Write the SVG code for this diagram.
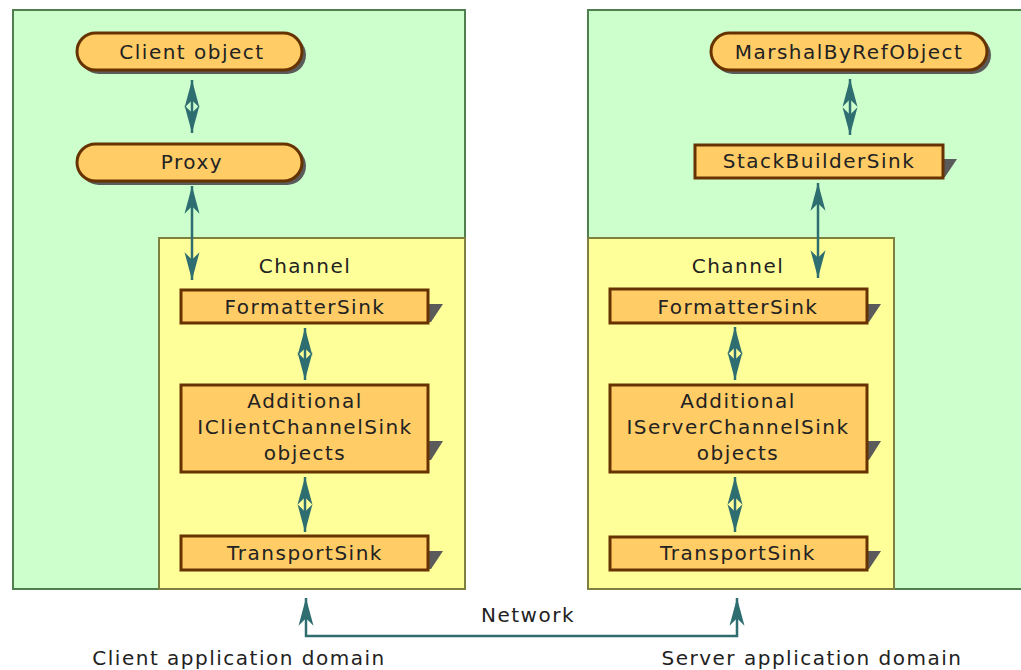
<svg xmlns="http://www.w3.org/2000/svg" width="1021" height="670" viewBox="0 0 1021 670">
<style>
.dom{fill:#ccffcc;stroke:#4f7f4f;stroke-width:2}
.chan{fill:#ffff99;stroke:#7f7f3f;stroke-width:2}
.node{fill:#ffcc66;stroke:#663300;stroke-width:3}
.sh{fill:#5a5a5a}
.t{font-family:"DejaVu Sans",Verdana,sans-serif;font-size:20px;letter-spacing:1.5px;fill:#222;text-anchor:middle}
.c{fill:none;stroke:#2f6e70;stroke-width:2.5}
</style>
<defs>
<marker id="ah" markerUnits="userSpaceOnUse" markerWidth="30" markerHeight="20" viewBox="-26 -8 28 16" refX="0" refY="0" orient="auto-start-reverse">
<path d="M0,0 L-26,-7 L-19,0 L-26,7 Z" fill="#2f6e70"/>
</marker>
</defs>
<rect width="1021" height="670" fill="#ffffff"/>
<g id="client-domain">
<rect class="dom" x="13" y="10" width="452" height="579"/>
<rect class="chan" x="159" y="238" width="306" height="351"/>
<text class="t" x="305" y="273">Channel</text>
</g>
<g id="server-domain">
<rect class="dom" x="588" y="10" width="440" height="579"/>
<rect class="chan" x="588" y="238" width="306" height="351"/>
<text class="t" x="738" y="273">Channel</text>
</g>
<g id="connectors">
<line class="c" x1="192" y1="80" x2="192" y2="133" marker-start="url(#ah)" marker-end="url(#ah)"/>
<line class="c" x1="192" y1="186" x2="192" y2="280" marker-start="url(#ah)" marker-end="url(#ah)"/>
<line class="c" x1="305" y1="328" x2="305" y2="380" marker-start="url(#ah)" marker-end="url(#ah)"/>
<line class="c" x1="305" y1="477" x2="305" y2="532" marker-start="url(#ah)" marker-end="url(#ah)"/>
<line class="c" x1="850" y1="79" x2="850" y2="135" marker-start="url(#ah)" marker-end="url(#ah)"/>
<line class="c" x1="818" y1="183" x2="818" y2="278" marker-start="url(#ah)" marker-end="url(#ah)"/>
<line class="c" x1="735" y1="327" x2="735" y2="380" marker-start="url(#ah)" marker-end="url(#ah)"/>
<line class="c" x1="735" y1="477" x2="735" y2="532" marker-start="url(#ah)" marker-end="url(#ah)"/>
<polyline class="c" points="306,598 306,636 737,636 737,598" marker-start="url(#ah)" marker-end="url(#ah)"/>
</g>
<g id="client-object">
<rect class="sh" x="80" y="36" width="226" height="38" rx="19"/>
<rect class="node" x="77" y="33" width="225" height="37" rx="18.5"/>
<text class="t" x="192" y="59">Client object</text>
</g>
<g id="proxy">
<rect class="sh" x="80" y="147" width="226" height="38" rx="19"/>
<rect class="node" x="77" y="144" width="225" height="37" rx="18.5"/>
<text class="t" x="192" y="169">Proxy</text>
</g>
<g id="client-formatter">
<polygon class="sh" points="428,304 443,304 431,322 428,322"/>
<rect class="node" x="181" y="290" width="247" height="33"/>
<text class="t" x="305" y="314">FormatterSink</text>
</g>
<g id="client-additional">
<polygon class="sh" points="428,441 443,441 431,460 428,460"/>
<rect class="node" x="181" y="385" width="247" height="87"/>
<text class="t" x="305" y="408">Additional</text>
<text class="t" x="305" y="434">IClientChannelSink</text>
<text class="t" x="305" y="460">objects</text>
</g>
<g id="client-transport">
<polygon class="sh" points="428,551 443,551 431,569 428,569"/>
<rect class="node" x="181" y="536" width="247" height="34"/>
<text class="t" x="305" y="560">TransportSink</text>
</g>
<g id="marshal">
<rect class="sh" x="714" y="36" width="277" height="38" rx="19"/>
<rect class="node" x="711" y="33" width="276" height="37" rx="18.5"/>
<text class="t" x="849" y="59">MarshalByRefObject</text>
</g>
<g id="stackbuilder">
<polygon class="sh" points="943,159 957,159 945,177 943,177"/>
<rect class="node" x="695" y="145" width="248" height="33"/>
<text class="t" x="819" y="168">StackBuilderSink</text>
</g>
<g id="server-formatter">
<polygon class="sh" points="867,304 881,304 869,322 867,322"/>
<rect class="node" x="610" y="289" width="257" height="34"/>
<text class="t" x="738" y="314">FormatterSink</text>
</g>
<g id="server-additional">
<polygon class="sh" points="867,441 881,441 869,460 867,460"/>
<rect class="node" x="610" y="385" width="257" height="87"/>
<text class="t" x="738" y="408">Additional</text>
<text class="t" x="738" y="434">IServerChannelSink</text>
<text class="t" x="738" y="460">objects</text>
</g>
<g id="server-transport">
<polygon class="sh" points="867,551 881,551 869,569 867,569"/>
<rect class="node" x="610" y="537" width="257" height="33"/>
<text class="t" x="738" y="560">TransportSink</text>
</g>
<g id="labels">
<text class="t" x="528" y="622">Network</text>
<text class="t" x="239" y="665">Client application domain</text>
<text class="t" x="812" y="665">Server application domain</text>
</g>
</svg>
